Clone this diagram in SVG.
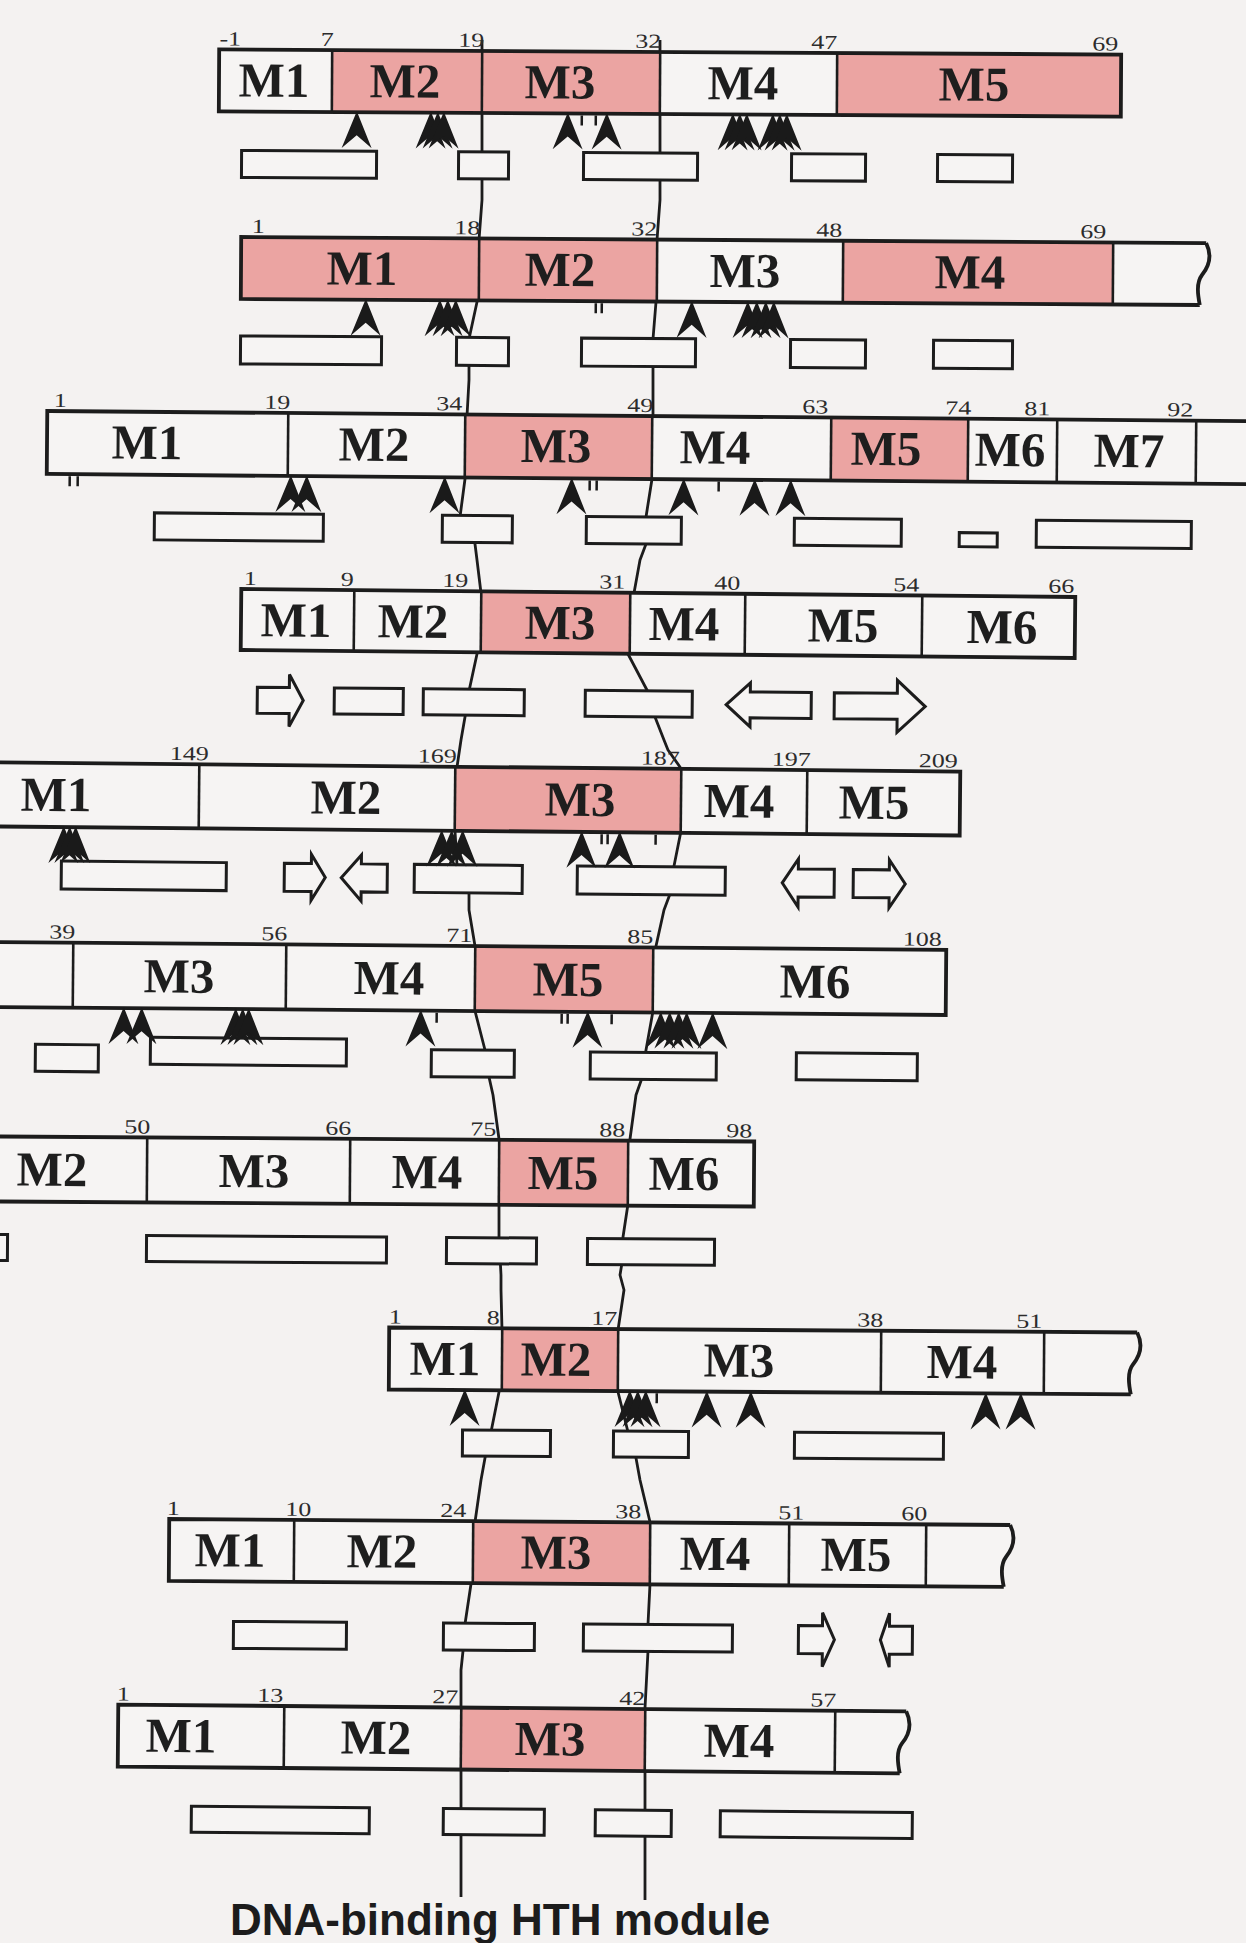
<svg xmlns="http://www.w3.org/2000/svg" xmlns:xlink="http://www.w3.org/1999/xlink" width="1246" height="1943" viewBox="0 0 1246 1943">
  <defs>
    <style>
      .seg { fill:#f6f4f3; }
      .hth { fill:#eba4a2; }
      .out { fill:none; stroke:#1c1c1c; stroke-width:3.8; stroke-linejoin:miter; }
      .dv { stroke:#1c1c1c; stroke-width:2.6; }
      .mod { font-family:"Liberation Serif","Times New Roman",serif; font-size:49px; font-weight:bold; fill:#1e1e1e; text-anchor:middle; }
      .pos { font-family:"Liberation Serif","Times New Roman",serif; font-size:20px; fill:#2c2c2c; text-anchor:middle; }
      .hx { fill:#f6f4f3; stroke:#1c1c1c; stroke-width:3; }
      .ah { fill:#1a1a1a; }
      .tk { stroke:#1a1a1a; stroke-width:2.5; fill:none; }
      .hthline { fill:none; stroke:#1c1c1c; stroke-width:2.8; stroke-linejoin:round; }
      .cap { font-family:"Liberation Sans",Arial,sans-serif; font-weight:bold; font-size:44px; fill:#1c1c1c; }
    </style>
    <!-- insertion-site arrowhead, tip at origin -->
    <path id="ah" class="ah" d="M0,0 L15,37 L0,24 L-15,37 Z"/>
  </defs>

  <rect width="1246" height="1943" fill="#f4f2f1"/>

  <!-- HTH module boundaries running through all rows -->
  <g id="connectors">
    <polyline class="hthline" points="482,40 482,200 479,240 477,302 469,339 469,380 467,416 465,479 460,517 475,544 477,560 481,593 477,654 469,691 465,717 461,740 457,767 455,831 457,865 469,893 469,910 475,946 475,1011 485,1050 489,1077 493,1095 499,1139 499,1204 499,1237 501,1275 501,1290 502,1330 499,1392 491,1432 485,1458 481,1480 475,1522 471,1584 465,1624 463,1651 461,1670 461,1897"/>
    <polyline class="hthline" points="660,40 660,200 657,240 656,302 653,339 653,380 653,416 652,479 646,517 646,544 640,560 634,593 628,654 648,692 655,717 664,740 668,750 680,767 681,831 674,866 670,894 664,910 656,946 653,1011 646,1050 642,1078 636,1095 630,1139 628,1204 623,1237 622,1263 620,1275 624,1290 618,1330 618,1392 628,1432 636,1458 640,1480 650,1522 650,1584 648,1624 648,1651 645,1708 645,1900"/>
  </g>

  <!-- row 1 -->
  <g id="row1" transform="rotate(0.33 670 83)">
    <rect class="seg" x="219" y="52" width="902" height="62"/>
    <rect class="hth" x="332" y="52" width="328" height="62"/>
    <rect class="hth" x="837" y="52" width="284" height="62"/>
    <line class="dv" x1="332" y1="52" x2="332" y2="114"/>
    <line class="dv" x1="482" y1="52" x2="482" y2="114"/>
    <line class="dv" x1="660" y1="52" x2="660" y2="114"/>
    <line class="dv" x1="837" y1="52" x2="837" y2="114"/>
    <rect class="out" x="219" y="52" width="902" height="62"/>
    <text class="mod" x="274" y="99">M1</text>
    <text class="mod" x="405" y="99">M2</text>
    <text class="mod" x="560" y="99">M3</text>
    <text class="mod" x="743" y="99">M4</text>
    <text class="mod" x="974" y="99">M5</text>
    <text class="pos" transform="translate(230 48) scale(1.3 1)">-1</text>
    <text class="pos" transform="translate(327 48) scale(1.3 1)">7</text>
    <text class="pos" transform="translate(471 48) scale(1.3 1)">19</text>
    <text class="pos" transform="translate(648 48) scale(1.3 1)">32</text>
    <text class="pos" transform="translate(824 48) scale(1.3 1)">47</text>
    <text class="pos" transform="translate(1105 48) scale(1.3 1)">69</text>
    <rect class="hx" x="242" y="153" width="135" height="27"/>
    <rect class="hx" x="459" y="153" width="50" height="27"/>
    <rect class="hx" x="584" y="153" width="114" height="27"/>
    <rect class="hx" x="792" y="153" width="74" height="27"/>
    <rect class="hx" x="938" y="153" width="75" height="27"/>
    <use xlink:href="#ah" x="357" y="113"/>
    <use xlink:href="#ah" x="431" y="113"/>
    <use xlink:href="#ah" x="438" y="113"/>
    <use xlink:href="#ah" x="444" y="113"/>
    <use xlink:href="#ah" x="568" y="113"/>
    <use xlink:href="#ah" x="607" y="113"/>
    <use xlink:href="#ah" x="733" y="113"/>
    <use xlink:href="#ah" x="740" y="113"/>
    <use xlink:href="#ah" x="747" y="113"/>
    <use xlink:href="#ah" x="773" y="113"/>
    <use xlink:href="#ah" x="780" y="113"/>
    <use xlink:href="#ah" x="787" y="113"/>
    <path class="tk" d="M582,116 v10 M596,116 v10"/>
  </g>

  <!-- row 2 -->
  <g id="row2" transform="rotate(0.36 722 271)">
    <path class="seg" d="M241,240 H1206 C1212,252 1210,262 1202,272 C1196,280 1198,292 1200,302 H241 Z"/>
    <rect class="hth" x="241" y="240" width="416" height="62"/>
    <rect class="hth" x="843" y="240" width="270" height="62"/>
    <line class="dv" x1="479" y1="240" x2="479" y2="302"/>
    <line class="dv" x1="657" y1="240" x2="657" y2="302"/>
    <line class="dv" x1="843" y1="240" x2="843" y2="302"/>
    <line class="dv" x1="1113" y1="240" x2="1113" y2="302"/>
    <path class="out" d="M1206,240 H241 V302 H1200 M1206,240 C1212,252 1210,262 1202,272 C1196,280 1198,292 1200,302"/>
    <text class="mod" x="362" y="287">M1</text>
    <text class="mod" x="560" y="287">M2</text>
    <text class="mod" x="745" y="287">M3</text>
    <text class="mod" x="970" y="287">M4</text>
    <text class="pos" transform="translate(258 236) scale(1.3 1)">1</text>
    <text class="pos" transform="translate(467 236) scale(1.3 1)">18</text>
    <text class="pos" transform="translate(644 236) scale(1.3 1)">32</text>
    <text class="pos" transform="translate(829 236) scale(1.3 1)">48</text>
    <text class="pos" transform="translate(1093 236) scale(1.3 1)">69</text>
    <rect class="hx" x="241" y="339" width="141" height="28"/>
    <rect class="hx" x="457" y="339" width="52" height="28"/>
    <rect class="hx" x="582" y="339" width="114" height="28"/>
    <rect class="hx" x="791" y="339" width="75" height="28"/>
    <rect class="hx" x="934" y="339" width="79" height="28"/>
    <use xlink:href="#ah" x="366" y="301"/>
    <use xlink:href="#ah" x="440" y="301"/>
    <use xlink:href="#ah" x="448" y="301"/>
    <use xlink:href="#ah" x="456" y="301"/>
    <use xlink:href="#ah" x="692" y="301"/>
    <use xlink:href="#ah" x="748" y="301"/>
    <use xlink:href="#ah" x="757" y="301"/>
    <use xlink:href="#ah" x="766" y="301"/>
    <use xlink:href="#ah" x="774" y="301"/>
    <path class="tk" d="M596,304 v10 M602,304 v10"/>
  </g>

  <!-- row 3 -->
  <g id="row3" transform="rotate(0.48 646 447)">
    <rect class="seg" x="47" y="416" width="1210" height="63"/>
    <rect class="hth" x="465" y="416" width="187" height="63"/>
    <rect class="hth" x="831" y="416" width="137" height="63"/>
    <line class="dv" x1="288" y1="416" x2="288" y2="479"/>
    <line class="dv" x1="465" y1="416" x2="465" y2="479"/>
    <line class="dv" x1="652" y1="416" x2="652" y2="479"/>
    <line class="dv" x1="831" y1="416" x2="831" y2="479"/>
    <line class="dv" x1="968" y1="416" x2="968" y2="479"/>
    <line class="dv" x1="1057" y1="416" x2="1057" y2="479"/>
    <line class="dv" x1="1196" y1="416" x2="1196" y2="479"/>
    <rect class="out" x="47" y="416" width="1210" height="63"/>
    <text class="mod" x="147" y="463">M1</text>
    <text class="mod" x="374" y="463">M2</text>
    <text class="mod" x="556" y="463">M3</text>
    <text class="mod" x="715" y="463">M4</text>
    <text class="mod" x="886" y="463">M5</text>
    <text class="mod" x="1010" y="463">M6</text>
    <text class="mod" x="1129" y="463">M7</text>
    <text class="pos" transform="translate(60 412) scale(1.3 1)">1</text>
    <text class="pos" transform="translate(277 412) scale(1.3 1)">19</text>
    <text class="pos" transform="translate(449 412) scale(1.3 1)">34</text>
    <text class="pos" transform="translate(640 412) scale(1.3 1)">49</text>
    <text class="pos" transform="translate(815 412) scale(1.3 1)">63</text>
    <text class="pos" transform="translate(958 412) scale(1.3 1)">74</text>
    <text class="pos" transform="translate(1037 412) scale(1.3 1)">81</text>
    <text class="pos" transform="translate(1180 412) scale(1.3 1)">92</text>
    <rect class="hx" x="155" y="517" width="169" height="27"/>
    <rect class="hx" x="443" y="517" width="70" height="27"/>
    <rect class="hx" x="587" y="517" width="95" height="27"/>
    <rect class="hx" x="795" y="517" width="107" height="27"/>
    <rect class="hx" x="960" y="530" width="38" height="14"/>
    <rect class="hx" x="1037" y="517" width="155" height="27"/>
    <use xlink:href="#ah" x="291" y="478"/>
    <use xlink:href="#ah" x="307" y="478"/>
    <use xlink:href="#ah" x="445" y="478"/>
    <use xlink:href="#ah" x="572" y="478"/>
    <use xlink:href="#ah" x="684" y="478"/>
    <use xlink:href="#ah" x="755" y="478"/>
    <use xlink:href="#ah" x="791" y="478"/>
    <path class="tk" d="M70,481 v10 M78,481 v10 M590,481 v10 M597,481 v10 M719,481 v10"/>
  </g>

  <!-- row 4 -->
  <g id="row4" transform="rotate(0.55 658 623)">
    <rect class="seg" x="241" y="593" width="834" height="61"/>
    <rect class="hth" x="481" y="593" width="149" height="61"/>
    <line class="dv" x1="354" y1="593" x2="354" y2="654"/>
    <line class="dv" x1="481" y1="593" x2="481" y2="654"/>
    <line class="dv" x1="630" y1="593" x2="630" y2="654"/>
    <line class="dv" x1="745" y1="593" x2="745" y2="654"/>
    <line class="dv" x1="922" y1="593" x2="922" y2="654"/>
    <rect class="out" x="241" y="593" width="834" height="61"/>
    <text class="mod" x="296" y="640">M1</text>
    <text class="mod" x="413" y="640">M2</text>
    <text class="mod" x="560" y="640">M3</text>
    <text class="mod" x="684" y="640">M4</text>
    <text class="mod" x="843" y="640">M5</text>
    <text class="mod" x="1002" y="640">M6</text>
    <text class="pos" transform="translate(250 589) scale(1.3 1)">1</text>
    <text class="pos" transform="translate(347 589) scale(1.3 1)">9</text>
    <text class="pos" transform="translate(455 589) scale(1.3 1)">19</text>
    <text class="pos" transform="translate(612 589) scale(1.3 1)">31</text>
    <text class="pos" transform="translate(727 589) scale(1.3 1)">40</text>
    <text class="pos" transform="translate(906 589) scale(1.3 1)">54</text>
    <text class="pos" transform="translate(1061 589) scale(1.3 1)">66</text>
    <path class="hx" d="M258,691 H290 V678 L304,704 L290,730 V717 H258 Z"/>
    <rect class="hx" x="335" y="691" width="69" height="26"/>
    <rect class="hx" x="424" y="691" width="101" height="26"/>
    <rect class="hx" x="586" y="691" width="107" height="26"/>
    <path class="hx" d="M727,704 L751,682 V691 H812 V717 H751 V726 Z"/>
    <path class="hx" d="M835,691 H898 V678 L926,704 L898,730 V717 H835 Z"/>
  </g>

  <!-- row 5 -->
  <g id="row5" transform="rotate(0.54 480 799)">
    <rect class="seg" x="-10" y="767" width="970" height="64"/>
    <rect class="hth" x="455" y="767" width="226" height="64"/>
    <line class="dv" x1="199" y1="767" x2="199" y2="831"/>
    <line class="dv" x1="455" y1="767" x2="455" y2="831"/>
    <line class="dv" x1="681" y1="767" x2="681" y2="831"/>
    <line class="dv" x1="807" y1="767" x2="807" y2="831"/>
    <rect class="out" x="-10" y="767" width="970" height="64"/>
    <text class="mod" x="56" y="815">M1</text>
    <text class="mod" x="346" y="815">M2</text>
    <text class="mod" x="580" y="815">M3</text>
    <text class="mod" x="739" y="815">M4</text>
    <text class="mod" x="874" y="815">M5</text>
    <text class="pos" transform="translate(189 763) scale(1.3 1)">149</text>
    <text class="pos" transform="translate(437 763) scale(1.3 1)">169</text>
    <text class="pos" transform="translate(660 763) scale(1.3 1)">187</text>
    <text class="pos" transform="translate(791 763) scale(1.3 1)">197</text>
    <text class="pos" transform="translate(938 763) scale(1.3 1)">209</text>
    <rect class="hx" x="62" y="865" width="165" height="28"/>
    <path class="hx" d="M285,865 H312 V856 L326,879 L312,902 V893 H285 Z"/>
    <path class="hx" d="M342,879 L362,856 V865 H388 V893 H362 V902 Z"/>
    <rect class="hx" x="415" y="865" width="108" height="28"/>
    <rect class="hx" x="578" y="865" width="148" height="28"/>
    <path class="hx" d="M783,880 L799,856 V866 H835 V894 H799 V904 Z"/>
    <path class="hx" d="M854,866 H890 V856 L906,880 L890,904 V894 H854 Z"/>
    <use xlink:href="#ah" x="64" y="830"/>
    <use xlink:href="#ah" x="70" y="830"/>
    <use xlink:href="#ah" x="76" y="830"/>
    <use xlink:href="#ah" x="442" y="830"/>
    <use xlink:href="#ah" x="452" y="830"/>
    <use xlink:href="#ah" x="463" y="830"/>
    <use xlink:href="#ah" x="582" y="830"/>
    <use xlink:href="#ah" x="620" y="830"/>
    <path class="tk" d="M602,833 v10 M608,833 v10 M656,833 v10"/>
  </g>

  <!-- row 6 -->
  <g id="row6" transform="rotate(0.48 473 978)">
    <rect class="seg" x="-10" y="946" width="956" height="65"/>
    <rect class="hth" x="475" y="946" width="178" height="65"/>
    <line class="dv" x1="73" y1="946" x2="73" y2="1011"/>
    <line class="dv" x1="286" y1="946" x2="286" y2="1011"/>
    <line class="dv" x1="475" y1="946" x2="475" y2="1011"/>
    <line class="dv" x1="653" y1="946" x2="653" y2="1011"/>
    <rect class="out" x="-10" y="946" width="956" height="65"/>
    <text class="mod" x="179" y="995">M3</text>
    <text class="mod" x="389" y="995">M4</text>
    <text class="mod" x="568" y="995">M5</text>
    <text class="mod" x="815" y="995">M6</text>
    <text class="pos" transform="translate(62 942) scale(1.3 1)">39</text>
    <text class="pos" transform="translate(274 942) scale(1.3 1)">56</text>
    <text class="pos" transform="translate(459 942) scale(1.3 1)">71</text>
    <text class="pos" transform="translate(640 942) scale(1.3 1)">85</text>
    <text class="pos" transform="translate(922 942) scale(1.3 1)">108</text>
    <rect class="hx" x="36" y="1048" width="63" height="27"/>
    <rect class="hx" x="151" y="1040" width="196" height="27"/>
    <rect class="hx" x="432" y="1050" width="83" height="27"/>
    <rect class="hx" x="591" y="1051" width="126" height="27"/>
    <rect class="hx" x="797" y="1050" width="121" height="27"/>
    <use xlink:href="#ah" x="124" y="1010"/>
    <use xlink:href="#ah" x="142" y="1010"/>
    <use xlink:href="#ah" x="236" y="1010"/>
    <use xlink:href="#ah" x="243" y="1010"/>
    <use xlink:href="#ah" x="249" y="1010"/>
    <use xlink:href="#ah" x="421" y="1010"/>
    <use xlink:href="#ah" x="588" y="1010"/>
    <use xlink:href="#ah" x="661" y="1010"/>
    <use xlink:href="#ah" x="670" y="1010"/>
    <use xlink:href="#ah" x="679" y="1010"/>
    <use xlink:href="#ah" x="687" y="1010"/>
    <use xlink:href="#ah" x="713" y="1010"/>
    <path class="tk" d="M437,1013 v10 M562,1013 v10 M568,1013 v10 M612,1013 v10"/>
  </g>

  <!-- row 7 -->
  <g id="row7" transform="rotate(0.38 377 1171)">
    <rect class="seg" x="-10" y="1139" width="764" height="65"/>
    <rect class="hth" x="499" y="1139" width="129" height="65"/>
    <line class="dv" x1="147" y1="1139" x2="147" y2="1204"/>
    <line class="dv" x1="350" y1="1139" x2="350" y2="1204"/>
    <line class="dv" x1="499" y1="1139" x2="499" y2="1204"/>
    <line class="dv" x1="628" y1="1139" x2="628" y2="1204"/>
    <rect class="out" x="-10" y="1139" width="764" height="65"/>
    <text class="mod" x="52" y="1188">M2</text>
    <text class="mod" x="254" y="1188">M3</text>
    <text class="mod" x="427" y="1188">M4</text>
    <text class="mod" x="563" y="1188">M5</text>
    <text class="mod" x="684" y="1188">M6</text>
    <text class="pos" transform="translate(137 1135) scale(1.3 1)">50</text>
    <text class="pos" transform="translate(338 1135) scale(1.3 1)">66</text>
    <text class="pos" transform="translate(483 1135) scale(1.3 1)">75</text>
    <text class="pos" transform="translate(612 1135) scale(1.3 1)">88</text>
    <text class="pos" transform="translate(739 1135) scale(1.3 1)">98</text>
    <rect class="hx" x="-10" y="1237" width="18" height="26"/>
    <rect class="hx" x="147" y="1237" width="240" height="26"/>
    <rect class="hx" x="447" y="1237" width="90" height="26"/>
    <rect class="hx" x="588" y="1237" width="127" height="26"/>
  </g>

  <!-- row 8 -->
  <g id="row8" transform="rotate(0.38 763 1361)">
    <path class="seg" d="M389,1330 H1137 C1143,1342 1141,1352 1133,1362 C1127,1370 1129,1382 1131,1392 H389 Z"/>
    <rect class="hth" x="502" y="1330" width="116" height="62"/>
    <line class="dv" x1="502" y1="1330" x2="502" y2="1392"/>
    <line class="dv" x1="618" y1="1330" x2="618" y2="1392"/>
    <line class="dv" x1="881" y1="1330" x2="881" y2="1392"/>
    <line class="dv" x1="1044" y1="1330" x2="1044" y2="1392"/>
    <path class="out" d="M1137,1330 H389 V1392 H1131 M1137,1330 C1143,1342 1141,1352 1133,1362 C1127,1370 1129,1382 1131,1392"/>
    <text class="mod" x="445" y="1377">M1</text>
    <text class="mod" x="556" y="1377">M2</text>
    <text class="mod" x="739" y="1377">M3</text>
    <text class="mod" x="962" y="1377">M4</text>
    <text class="pos" transform="translate(395 1326) scale(1.3 1)">1</text>
    <text class="pos" transform="translate(493 1326) scale(1.3 1)">8</text>
    <text class="pos" transform="translate(604 1326) scale(1.3 1)">17</text>
    <text class="pos" transform="translate(870 1326) scale(1.3 1)">38</text>
    <text class="pos" transform="translate(1029 1326) scale(1.3 1)">51</text>
    <rect class="hx" x="463" y="1432" width="88" height="26"/>
    <rect class="hx" x="614" y="1432" width="75" height="26"/>
    <rect class="hx" x="795" y="1432" width="149" height="26"/>
    <use xlink:href="#ah" x="465" y="1391"/>
    <use xlink:href="#ah" x="630" y="1391"/>
    <use xlink:href="#ah" x="638" y="1391"/>
    <use xlink:href="#ah" x="646" y="1391"/>
    <use xlink:href="#ah" x="707" y="1391"/>
    <use xlink:href="#ah" x="751" y="1391"/>
    <use xlink:href="#ah" x="986" y="1391"/>
    <use xlink:href="#ah" x="1021" y="1391"/>
    <path class="tk" d="M657,1394 v10"/>
  </g>

  <!-- row 9 -->
  <g id="row9" transform="rotate(0.41 590 1553)">
    <path class="seg" d="M169,1522 H1010 C1016,1534 1014,1544 1006,1554 C1000,1562 1002,1574 1004,1584 H169 Z"/>
    <rect class="hth" x="473" y="1522" width="177" height="62"/>
    <line class="dv" x1="294" y1="1522" x2="294" y2="1584"/>
    <line class="dv" x1="473" y1="1522" x2="473" y2="1584"/>
    <line class="dv" x1="650" y1="1522" x2="650" y2="1584"/>
    <line class="dv" x1="789" y1="1522" x2="789" y2="1584"/>
    <line class="dv" x1="926" y1="1522" x2="926" y2="1584"/>
    <path class="out" d="M1010,1522 H169 V1584 H1004 M1010,1522 C1016,1534 1014,1544 1006,1554 C1000,1562 1002,1574 1004,1584"/>
    <text class="mod" x="230" y="1569">M1</text>
    <text class="mod" x="382" y="1569">M2</text>
    <text class="mod" x="556" y="1569">M3</text>
    <text class="mod" x="715" y="1569">M4</text>
    <text class="mod" x="856" y="1569">M5</text>
    <text class="pos" transform="translate(173 1518) scale(1.3 1)">1</text>
    <text class="pos" transform="translate(298 1518) scale(1.3 1)">10</text>
    <text class="pos" transform="translate(453 1518) scale(1.3 1)">24</text>
    <text class="pos" transform="translate(628 1518) scale(1.3 1)">38</text>
    <text class="pos" transform="translate(791 1518) scale(1.3 1)">51</text>
    <text class="pos" transform="translate(914 1518) scale(1.3 1)">60</text>
    <rect class="hx" x="234" y="1624" width="113" height="27"/>
    <rect class="hx" x="444" y="1624" width="91" height="27"/>
    <rect class="hx" x="584" y="1624" width="149" height="27"/>
    <path class="hx" d="M799,1624 H823 V1611 L835,1638 L823,1665 V1652 H799 Z"/>
    <path class="hx" d="M881,1638 L890,1611 V1624 H913 V1652 H890 V1665 Z"/>
  </g>

  <!-- row 10 -->
  <g id="row10" transform="rotate(0.5 512 1739)">
    <path class="seg" d="M118,1708 H906 C912,1720 910,1730 902,1740 C896,1748 898,1760 900,1770 H118 Z"/>
    <rect class="hth" x="461" y="1708" width="184" height="62"/>
    <line class="dv" x1="284" y1="1708" x2="284" y2="1770"/>
    <line class="dv" x1="461" y1="1708" x2="461" y2="1770"/>
    <line class="dv" x1="645" y1="1708" x2="645" y2="1770"/>
    <line class="dv" x1="835" y1="1708" x2="835" y2="1770"/>
    <path class="out" d="M906,1708 H118 V1770 H900 M906,1708 C912,1720 910,1730 902,1740 C896,1748 898,1760 900,1770"/>
    <text class="mod" x="181" y="1755">M1</text>
    <text class="mod" x="376" y="1755">M2</text>
    <text class="mod" x="550" y="1755">M3</text>
    <text class="mod" x="739" y="1755">M4</text>
    <text class="pos" transform="translate(123 1704) scale(1.3 1)">1</text>
    <text class="pos" transform="translate(270 1704) scale(1.3 1)">13</text>
    <text class="pos" transform="translate(445 1704) scale(1.3 1)">27</text>
    <text class="pos" transform="translate(632 1704) scale(1.3 1)">42</text>
    <text class="pos" transform="translate(823 1704) scale(1.3 1)">57</text>
    <rect class="hx" x="192" y="1809" width="178" height="26"/>
    <rect class="hx" x="444" y="1809" width="101" height="26"/>
    <rect class="hx" x="596" y="1809" width="76" height="26"/>
    <rect class="hx" x="721" y="1809" width="192" height="26"/>
  </g>

  <g id="caption">
    <text class="cap" x="230" y="1935">DNA-binding HTH module</text>
  </g>
</svg>
